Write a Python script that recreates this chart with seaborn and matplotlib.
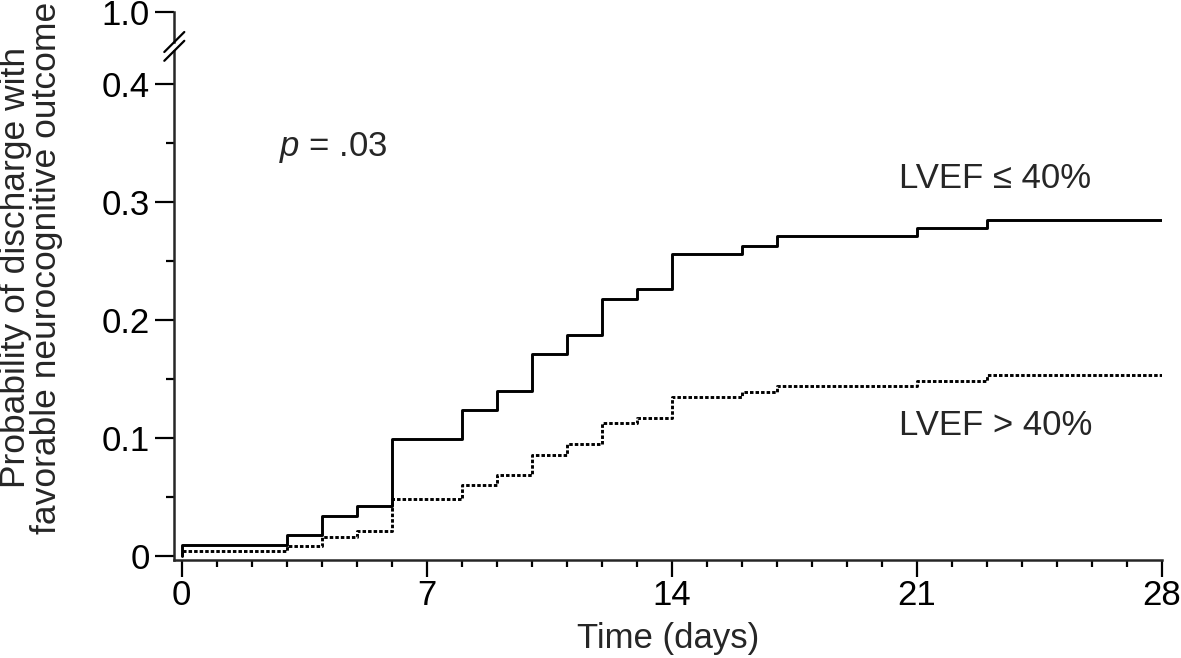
import numpy as np
import pandas as pd
import seaborn as sns
import matplotlib.pyplot as plt
from matplotlib.lines import Line2D
from matplotlib.ticker import MultipleLocator

# data
days = [0, 0, 3, 4, 5, 6, 8, 9, 10, 11, 12, 13, 14, 16, 17, 21, 23, 28]
lvef_low = [0, 0.009, 0.0175, 0.034, 0.042, 0.099, 0.124, 0.140, 0.171, 0.187,
            0.218, 0.226, 0.256, 0.263, 0.271, 0.278, 0.285, 0.285]
lvef_high = [0, 0.004, 0.0085, 0.016, 0.021, 0.048, 0.060, 0.069, 0.086, 0.095,
             0.113, 0.117, 0.135, 0.139, 0.144, 0.148, 0.153, 0.153]
groups = ["LVEF \u2264 40%", "LVEF > 40%"]
x_ticks = [0, 7, 14, 21, 28]
y_ticks = [0, 0.1, 0.2, 0.3, 0.4]
y_ticklabels = ["0", "0.1", "0.2", "0.3", "0.4"]

df = pd.DataFrame({
    "day": days * 2,
    "prob": lvef_low + lvef_high,
    "group": [groups[0]] * len(days) + [groups[1]] * len(days),
})

sns.set_style("ticks")
plt.rcParams["font.family"] = ["Liberation Sans", "DejaVu Sans"]
plt.rcParams["mathtext.fontset"] = "custom"
plt.rcParams["mathtext.rm"] = "Liberation Sans"
plt.rcParams["mathtext.it"] = "Liberation Sans:italic"

W_PX, H_PX = 1181, 658
fig = plt.figure(figsize=(W_PX / 100, H_PX / 100), dpi=100)

left = 174.3 / W_PX
width = (1162 - 174.3) / W_PX
ax = fig.add_axes([left, (H_PX - 560) / H_PX, width, (560 - 50.5) / H_PX])
ax_top = fig.add_axes([left, (H_PX - 42) / H_PX, width, 30.3 / H_PX])

sns.lineplot(data=df, x="day", y="prob", style="group",
             dashes={groups[0]: "", groups[1]: (1.2, 0.7)},
             color="black", drawstyle="steps-post", estimator=None,
             sort=False, legend=False, linewidth=2.1, ax=ax)

ax.set_xlim(-0.21, 28)
ax.set_ylim(-0.0034, 0.4284)
ax.set_xticks(x_ticks)
ax.xaxis.set_minor_locator(MultipleLocator(1))
ax.set_yticks(y_ticks)
ax.set_yticklabels(y_ticklabels)
ax.yaxis.set_minor_locator(MultipleLocator(0.05))

for a in (ax, ax_top):
    for s in ("top", "right"):
        a.spines[s].set_visible(False)
    a.spines["left"].set_linewidth(1.8)
    a.spines["bottom"].set_linewidth(1.8)
    a.tick_params(axis="y", which="major", length=13.5, width=1.6, pad=4,
                  labelsize=25, color="black", labelcolor="black")
    a.tick_params(axis="y", which="minor", length=6, width=1.6, color="black")
ax.tick_params(axis="x", which="major", length=12, width=1.6, pad=2,
               labelsize=25, color="black", labelcolor="black")
ax.tick_params(axis="x", which="minor", length=5, width=1.6, color="black")

ax_top.spines["bottom"].set_visible(False)
ax_top.set_xlim(ax.get_xlim())
ax_top.set_xticks([])
ax_top.set_ylim(1.0 - 30.3 / 1180, 1.0)
ax_top.set_yticks([1.0])
ax_top.set_yticklabels(["1.0"])
ax_top.patch.set_visible(False)

ax.set_xlabel("Time (days)", fontsize=25, labelpad=7)
ax.set_ylabel("")
fig.text(31 / W_PX, 1 - 268 / H_PX,
         "Probability of discharge with\nfavorable neurocognitive outcome",
         rotation=90, ha="center", va="center", fontsize=25.5, linespacing=0.95)

# axis break marks
dx, dy = 10 / W_PX, 10 / H_PX
for yc in (42, 50.8):
    yf = 1 - yc / H_PX
    fig.add_artist(Line2D([left - dx, left + dx], [yf - dy, yf + dy],
                          transform=fig.transFigure, color="black", lw=1.6))

ax.text(2.77, 0.3466, "$p$ = .03", fontsize=25, ha="left", va="center")
ax.text(20.5, 0.3203, groups[0], fontsize=25, ha="left", va="center")
ax.text(20.5, 0.1104, groups[1], fontsize=25, ha="left", va="center")

fig.savefig("out.png", dpi=100)
